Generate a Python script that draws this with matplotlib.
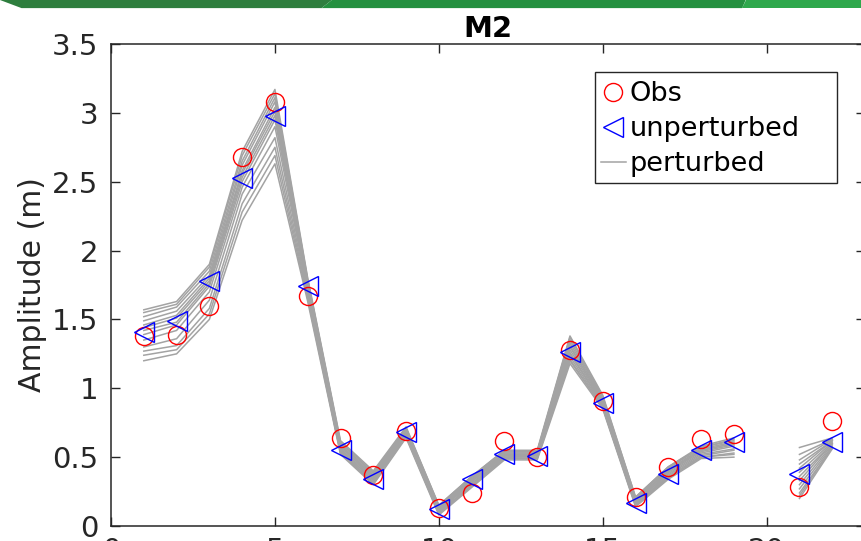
import numpy as np
import matplotlib
matplotlib.use("Agg")
import matplotlib.pyplot as plt
from matplotlib.patches import Polygon, Rectangle

nan = np.nan

# station index along the coast
stations = list(range(1, 23))

obs = [1.38, 1.39, 1.60, 2.68, 3.08, 1.67, 0.64, 0.37, 0.69, 0.13, 0.24,
       0.62, 0.50, 1.28, 0.91, 0.21, 0.43, 0.63, 0.67, nan, 0.28, 0.76]

unperturbed = [1.41, 1.49, 1.78, 2.53, 2.98, 1.74, 0.55, 0.34, 0.68, 0.12, 0.34,
               0.52, 0.51, 1.26, 0.89, 0.17, 0.38, 0.55, 0.61, nan, 0.38, 0.61]

# perturbed ensemble members
perturbed = [
    [1.57, 1.63, 1.90, 2.72, 3.17, 1.80, 0.62, 0.40, 0.72, 0.15, 0.36,
     0.55, 0.55, 1.38, 0.95, 0.21, 0.43, 0.58, 0.64, nan, 0.57, 0.64],
    [1.55, 1.61, 1.88, 2.69, 3.14, 1.79, 0.61, 0.39, 0.71, 0.15, 0.36,
     0.55, 0.54, 1.37, 0.94, 0.21, 0.43, 0.57, 0.63, nan, 0.52, 0.63],
    [1.52, 1.59, 1.85, 2.65, 3.11, 1.78, 0.60, 0.38, 0.71, 0.14, 0.35,
     0.54, 0.54, 1.35, 0.93, 0.20, 0.42, 0.57, 0.62, nan, 0.48, 0.63],
    [1.49, 1.56, 1.82, 2.62, 3.08, 1.77, 0.59, 0.37, 0.70, 0.13, 0.34,
     0.53, 0.53, 1.33, 0.92, 0.19, 0.41, 0.56, 0.61, nan, 0.45, 0.62],
    [1.46, 1.53, 1.80, 2.58, 3.04, 1.76, 0.58, 0.36, 0.69, 0.13, 0.34,
     0.53, 0.53, 1.31, 0.91, 0.19, 0.40, 0.55, 0.60, nan, 0.42, 0.62],
    [1.44, 1.51, 1.78, 2.56, 3.01, 1.75, 0.57, 0.36, 0.69, 0.12, 0.33,
     0.52, 0.52, 1.30, 0.91, 0.18, 0.40, 0.55, 0.60, nan, 0.39, 0.61],
    [1.42, 1.48, 1.76, 2.53, 2.98, 1.74, 0.56, 0.35, 0.68, 0.12, 0.33,
     0.51, 0.52, 1.28, 0.90, 0.17, 0.39, 0.54, 0.59, nan, 0.36, 0.60],
    [1.39, 1.46, 1.74, 2.50, 2.95, 1.73, 0.55, 0.34, 0.68, 0.11, 0.32,
     0.51, 0.51, 1.26, 0.89, 0.17, 0.38, 0.53, 0.58, nan, 0.33, 0.60],
    [1.35, 1.42, 1.70, 2.46, 2.90, 1.71, 0.55, 0.33, 0.67, 0.11, 0.31,
     0.50, 0.51, 1.25, 0.88, 0.16, 0.37, 0.52, 0.56, nan, 0.30, 0.59],
    [1.30, 1.36, 1.64, 2.41, 2.82, 1.69, 0.54, 0.32, 0.66, 0.10, 0.30,
     0.50, 0.50, 1.23, 0.87, 0.16, 0.36, 0.51, 0.55, nan, 0.27, 0.58],
    [1.27, 1.31, 1.58, 2.34, 2.75, 1.67, 0.53, 0.31, 0.65, 0.09, 0.29,
     0.49, 0.49, 1.21, 0.86, 0.15, 0.35, 0.50, 0.53, nan, 0.24, 0.57],
    [1.24, 1.28, 1.54, 2.28, 2.69, 1.65, 0.53, 0.31, 0.65, 0.09, 0.29,
     0.49, 0.49, 1.20, 0.86, 0.15, 0.35, 0.50, 0.52, nan, 0.22, 0.57],
    [1.20, 1.25, 1.50, 2.22, 2.63, 1.63, 0.52, 0.30, 0.64, 0.08, 0.28,
     0.48, 0.48, 1.18, 0.85, 0.14, 0.34, 0.49, 0.50, nan, 0.20, 0.56],
]

plt.rcParams["font.family"] = ["DejaVu Sans"]

fig = plt.figure(figsize=(8.62, 5.41), dpi=100)

# slide header band
band = [
    ([(0.0, 1.0), (0.385, 1.0), (0.373, 0.985), (0.025, 0.985)], "#2e7e3e"),
    ([(0.385, 1.0), (0.865, 1.0), (0.861, 0.985), (0.373, 0.985)], "#24903f"),
    ([(0.865, 1.0), (1.0, 1.0), (1.0, 0.985), (0.861, 0.985)], "#2ea84c"),
]
for pts, col in band:
    fig.patches.append(Polygon(pts, closed=True, transform=fig.transFigure,
                               facecolor=col, edgecolor="none"))

ax = fig.add_axes([0.1288, 0.0277, 0.8747, 0.891])

for i, member in enumerate(perturbed):
    ax.plot(stations, member, color="#a3a3a3", lw=1.1,
            label="perturbed" if i == 0 else None, zorder=1)

ax.plot(stations, obs, "o", ms=13, mfc="none", mec="#ff0000", mew=1.0,
        label="Obs", zorder=3)
ax.plot(stations, unperturbed, "<", ms=14, mfc="none", mec="#0000ff", mew=1.0,
        label="unperturbed", zorder=3)

ax.set_xlim(0, 23)
ax.set_ylim(0, 3.5)
ax.set_xticks([0, 5, 10, 15, 20])
ax.set_yticks([0, 0.5, 1, 1.5, 2, 2.5, 3, 3.5])
ax.set_yticklabels(["0", "0.5", "1", "1.5", "2", "2.5", "3", "3.5"])

ax.tick_params(direction="in", length=6.5, width=1.0, top=True, right=True,
               labelsize=21, colors="#262626", pad=9)
ax.tick_params(axis="x", pad=8)
for s in ax.spines.values():
    s.set_color("#262626")
    s.set_linewidth(1.1)

ax.set_title("M2", fontsize=21, fontweight="bold", pad=5)
ax.set_ylabel("Amplitude (m)", fontsize=21.5, color="#262626", labelpad=4)

# legend box is wider than its entries, so the frame is drawn separately
ax.add_patch(Rectangle((0.642, 0.712), 0.321, 0.230, transform=ax.transAxes,
                       facecolor="white", edgecolor="#262626", lw=1.0, zorder=4))

handles, labels = ax.get_legend_handles_labels()
order = [labels.index("Obs"), labels.index("unperturbed"), labels.index("perturbed")]
leg = ax.legend([handles[k] for k in order], [labels[k] for k in order],
                loc="upper left", bbox_to_anchor=(0.642, 0.934), fontsize=19.5,
                frameon=False, handlelength=0.95, handletextpad=0.12,
                labelspacing=0.33, borderpad=0.2, borderaxespad=0.0)
leg.set_zorder(5)

fig.savefig("out.png", dpi=100)
